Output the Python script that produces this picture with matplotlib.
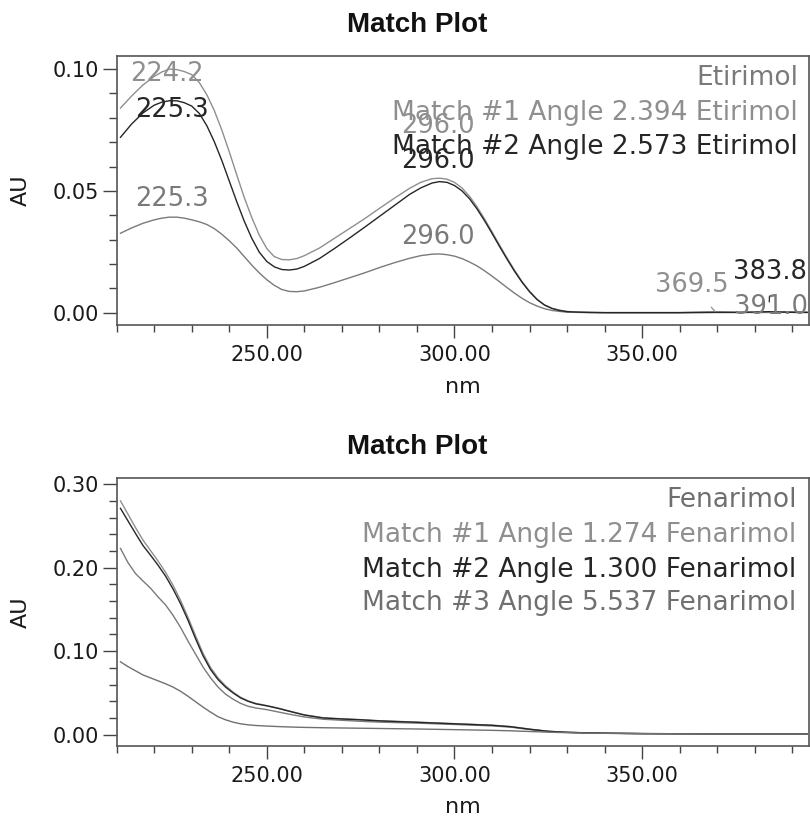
import numpy as np
import matplotlib
matplotlib.use("Agg")
import matplotlib.pyplot as plt
from matplotlib.ticker import MultipleLocator, FormatStrFormatter

# ---------------- data: top panel (Etirimol) ----------------
wl_top = [211, 214, 217, 220,
          222, 224, 226, 228, 230, 232, 234, 236, 238, 240, 242, 244, 246, 248, 250,
          252, 254, 256, 258, 260,
          264, 268, 272, 276, 280, 284, 288,
          291, 294,
          296, 298, 300, 302, 304, 306, 308, 310, 312, 314, 316, 318, 320, 322, 324,
          326, 328, 330,
          333, 336, 340, 350, 360,
          369.5, 376, 383.8, 391, 394]

match1_top = [.084, .089, .0935, .097,
              .0988, .100, .0998, .0990, .0977, .0945, .0895, .0830, .0750, .0660, .0565,
              .0472, .0390, .0318, .0263,
              .0230, .0218, .0217, .0222, .0234,
              .0265, .0305, .0345, .0385, .0428, .0470, .0510,
              .0535, .0550,
              .0552, .0548, .0535, .0512, .0478, .0435, .0385, .0332, .0278, .0225, .0175,
              .0128, .0088, .0055, .0032,
              .0018, .0010, .0005,
              .0002, .0001, 0, 0, 0,
              .0004, .0001, .0001, .0001, .0001]

match2_top = [.072, .0775, .0820, .0852,
              .0864, .0870, .0870, .0862, .0848, .0818, .0768, .0702, .0625, .0540, .0455,
              .0375, .0305, .0248, .0210,
              .0188, .0177, .0175, .0179, .0190,
              .0222, .0263, .0306, .0350, .0395, .0440, .0485,
              .0512, .0532,
              .0538, .0535, .0522, .0500, .0468, .0426, .0378, .0326, .0272, .0220, .0170,
              .0125, .0086, .0054, .0031,
              .0017, .0009, .0004,
              .0002, .0001, 0, 0, 0,
              .0001, .0001, .0004, .0001, .0001]

etirimol = [.0326, .0348, .0367, .0381,
            .0388, .0392, .0392, .0388, .0381, .0373, .0362, .0345, .0322, .0295, .0265,
            .0230, .0195, .0163, .0135,
            .0112, .0095, .0087, .0086, .0089,
            .0104, .0123, .0143, .0163, .0185, .0205, .0223,
            .0234, .0240,
            .0241, .0238, .0232, .0222, .0208, .0192, .0172, .0150, .0127, .0103, .0080,
            .0059, .0041, .0027, .0016,
            .0009, .0005, .0002,
            .0001, 0, 0, 0, 0,
            .0001, .0001, .0001, .0003, .0001]

top_legend = ["Etirimol",
              "Match #1 Angle 2.394 Etirimol",
              "Match #2 Angle 2.573 Etirimol"]

# peak labels (wavelength of each labelled maximum)
peaks_match1_top = [224.2, 296.0, 369.5]
peaks_match2_top = [225.3, 296.0, 383.8]
peaks_etirimol = [225.3, 296.0, 391.0]

# ---------------- data: bottom panel (Fenarimol) ----------------
wl_bot = [211, 213, 215, 217, 219, 221, 223, 225, 227, 229, 231, 233, 235, 237, 239,
          241, 243, 245, 247, 250, 253, 256, 260, 265, 270, 275, 280, 290, 300, 310,
          315, 320, 325, 330, 335, 340, 350, 360, 370, 380, 394]

match1_bot = [.2800, .2640, .2480, .2330, .2205, .2080, .1945, .1790, .1610, .1405,
              .1185, .0975, .0805, .0680, .0585, .0510, .0448, .0405, .0375, .0348,
              .0318, .0283, .0238, .0202, .0190, .0180, .0167, .0150, .0132, .0114,
              .0097, .0067, .0041, .0029, .0022, .0018, .0013, .0011, .0010, .0010, .0010]

match2_bot = [.2710, .2560, .2410, .2265, .2150, .2030, .1900, .1745, .1570, .1370,
              .1150, .0945, .0780, .0660, .0570, .0500, .0440, .0400, .0370, .0345,
              .0315, .0280, .0235, .0200, .0188, .0178, .0165, .0148, .0130, .0112,
              .0095, .0065, .0040, .0028, .0022, .0018, .0013, .0011, .0010, .0010, .0010]

fenarimol = [.2230, .2060, .1930, .1840, .1755, .1650, .1555, .1430, .1285, .1120,
             .0965, .0810, .0680, .0570, .0485, .0425, .0375, .0340, .0320, .0300,
             .0272, .0245, .0212, .0185, .0172, .0160, .0150, .0138, .0122, .0105,
             .0090, .0062, .0038, .0027, .0021, .0017, .0012, .0010, .0009, .0009, .0009]

match3_bot = [.0872, .0815, .0765, .0715, .0680, .0645, .0610, .0570, .0520, .0460,
              .0395, .0330, .0270, .0215, .0178, .0150, .0130, .0118, .0110, .0103,
              .0097, .0092, .0087, .0083, .0080, .0077, .0074, .0068, .0060, .0052,
              .0046, .0038, .0030, .0024, .0019, .0016, .0012, .0010, .0009, .0009, .0009]

bot_legend = ["Fenarimol",
              "Match #1 Angle 1.274 Fenarimol",
              "Match #2 Angle 1.300 Fenarimol",
              "Match #3 Angle 5.537 Fenarimol"]

# ---------------- styling ----------------
C_REF = "#7a7a7a"
C_M1 = "#8f8f8f"
C_M2 = "#262626"
C_M3 = "#707070"
TXT = 18.5
LEG = 19
plt.rcParams["font.family"] = ["DejaVu Sans"]

fig = plt.figure(figsize=(8.1, 8.19), dpi=100)
ax1 = fig.add_axes([0.1441, 0.6028, 0.8543, 0.3292])
ax2 = fig.add_axes([0.1441, 0.0888, 0.8543, 0.3272])


def style_axes(ax, ymaj, ymin, ylim):
    ax.set_xlim(210, 394.4)
    ax.set_ylim(*ylim)
    ax.xaxis.set_major_locator(MultipleLocator(50))
    ax.xaxis.set_minor_locator(MultipleLocator(10))
    ax.yaxis.set_major_locator(MultipleLocator(ymaj))
    ax.yaxis.set_minor_locator(MultipleLocator(ymin))
    ax.xaxis.set_major_formatter(FormatStrFormatter("%.2f"))
    ax.yaxis.set_major_formatter(FormatStrFormatter("%.2f"))
    for s in ax.spines.values():
        s.set_color("#555555")
        s.set_linewidth(1.2)
    ax.tick_params(axis="x", which="major", direction="out", length=9.5, width=1.0,
                   color="#444444", pad=5, labelsize=15, labelcolor="#1a1a1a")
    ax.tick_params(axis="x", which="minor", direction="out", length=5, width=1.0,
                   color="#444444")
    ax.tick_params(axis="y", which="major", direction="out", length=10, width=1.0,
                   color="#444444", pad=2.5, labelsize=15, labelcolor="#1a1a1a")
    ax.tick_params(axis="y", which="minor", direction="out", length=6, width=1.0,
                   color="#444444")
    ax.set_xlabel("nm", fontsize=16, color="#1a1a1a")
    ax.set_ylabel("AU", fontsize=16, color="#1a1a1a")
    ax.xaxis.set_label_coords(0.5, -0.227)
    ax.xaxis.label.set_va("center")
    ax.yaxis.set_label_coords(-0.139, 0.5)
    ax.yaxis.label.set_va("center")
    ax.yaxis.label.set_ha("center")


style_axes(ax1, 0.05, 0.01, (-0.0052, 0.1055))
style_axes(ax2, 0.10, 0.02, (-0.0139, 0.307))

# ---------------- top panel curves ----------------
ax1.plot(wl_top, etirimol, color=C_REF, lw=1.0)
ax1.plot(wl_top, match1_top, color=C_M1, lw=1.0)
ax1.plot(wl_top, match2_top, color=C_M2, lw=1.0)


def peak_label(ax, wls, vals, wl, color, dx, dy, leader=False, shrinkB=0):
    v = float(np.interp(wl, wls, vals))
    kw = {}
    if leader:
        kw["arrowprops"] = dict(arrowstyle="-", color=color, lw=0.9,
                                shrinkA=6, shrinkB=shrinkB)
    ax.annotate(f"{wl:.1f}", xy=(wl, v), xytext=(dx, dy), textcoords="offset points",
                ha="center", va="center", fontsize=TXT, color=color, **kw)


# Match #1 labels
peak_label(ax1, wl_top, match1_top, peaks_match1_top[0], C_M1, -2, -3.4)
peak_label(ax1, wl_top, match1_top, peaks_match1_top[1], C_M1, -1.1, 37.7)
peak_label(ax1, wl_top, match1_top, peaks_match1_top[2], C_M1, -17, 19, leader=True)
# Match #2 labels
peak_label(ax1, wl_top, match2_top, peaks_match2_top[0], C_M2, -1.6, -6.7)
peak_label(ax1, wl_top, match2_top, peaks_match2_top[1], C_M2, -1.1, 15)
peak_label(ax1, wl_top, match2_top, peaks_match2_top[2], C_M2, 1, 28.6, leader=True,
           shrinkB=7)
# Etirimol labels
peak_label(ax1, wl_top, etirimol, peaks_etirimol[0], C_REF, -1.6, 13.2)
peak_label(ax1, wl_top, etirimol, peaks_etirimol[1], C_REF, -1.1, 12.5)
peak_label(ax1, wl_top, etirimol, peaks_etirimol[2], C_REF, -17.9, 3.8)

for txt, col, yy in zip(top_legend, [C_REF, C_M1, C_M2], [0.917, 0.7875, 0.661]):
    ax1.text(0.9845, yy, txt, transform=ax1.transAxes, ha="right", va="center",
             fontsize=LEG, color=col)

# ---------------- bottom panel curves ----------------
ax2.plot(wl_bot, fenarimol, color=C_REF, lw=1.0)
ax2.plot(wl_bot, match1_bot, color=C_M1, lw=1.0)
ax2.plot(wl_bot, match2_bot, color=C_M2, lw=1.0)
ax2.plot(wl_bot, match3_bot, color=C_M3, lw=1.0)

for txt, col, yy in zip(bot_legend, ["#6f6f6f", C_M1, C_M2, C_M3],
                        [0.919, 0.788, 0.657, 0.534]):
    ax2.text(0.9825, yy, txt, transform=ax2.transAxes, ha="right", va="center",
             fontsize=LEG, color=col)

# ---------------- titles ----------------
fig.text(417.5 / 810, 1 - 25 / 819, "Match Plot", ha="center", va="center",
         fontsize=20, fontweight="bold", family=["Liberation Sans", "DejaVu Sans"],
         color="#111111")
fig.text(417.5 / 810, 1 - 446.7 / 819, "Match Plot", ha="center", va="center",
         fontsize=20, fontweight="bold", family=["Liberation Sans", "DejaVu Sans"],
         color="#111111")

fig.savefig("out.png", dpi=100)
